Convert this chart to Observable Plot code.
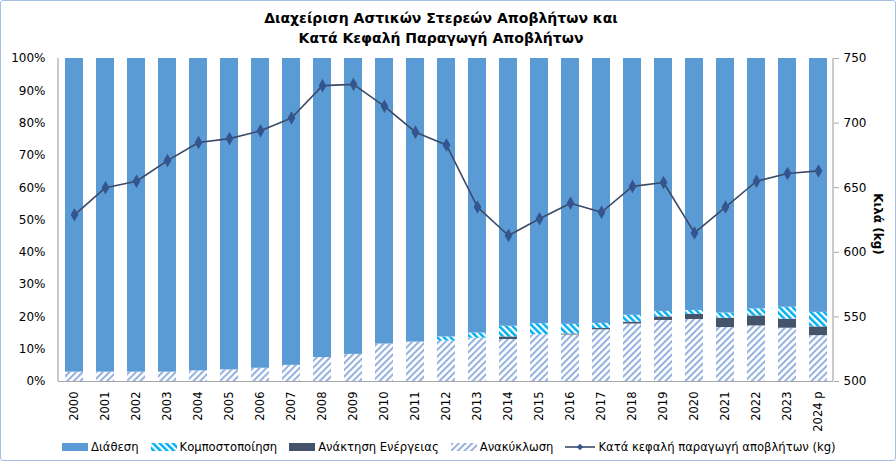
<!DOCTYPE html>
<html><head><meta charset="utf-8">
<script src="https://cdn.jsdelivr.net/npm/d3@7"></script>
<script src="https://cdn.jsdelivr.net/npm/@observablehq/plot@0.6"></script>
<style>
html,body{margin:0;padding:0;background:#fff;}
body{font-family:"DejaVu Sans",Verdana,sans-serif;color:#000;}
#wrap{position:relative;width:896px;height:461px;overflow:hidden;}
#border{position:absolute;left:0;top:0;right:0;bottom:0;border:1.5px solid #a4c0e8;border-radius:3px;pointer-events:none;box-sizing:border-box;}
#title{height:48px;box-sizing:border-box;padding-top:8px;text-align:center;font-weight:bold;font-size:14px;line-height:20px;padding-right:14px;}
#chart{height:390px;}
#legend{height:23px;display:flex;align-items:center;font-size:11.6px;padding-left:62px;box-sizing:border-box;padding-bottom:6px;}
.item{display:flex;align-items:center;margin-right:12px;}
.item svg{margin-right:3px;}
</style></head>
<body>
<svg width="0" height="0" style="position:absolute">
  <defs>
    <pattern id="recPat" patternUnits="userSpaceOnUse" width="4.7" height="4.7" patternTransform="rotate(45)">
      <rect width="4.7" height="4.7" fill="#ffffff"/>
      <rect width="2" height="4.7" fill="#93b0de"/>
    </pattern>
    <pattern id="compPat" patternUnits="userSpaceOnUse" width="4.7" height="4.7" patternTransform="rotate(-45)">
      <rect width="4.7" height="4.7" fill="#ffffff"/>
      <rect width="2.5" height="4.7" fill="#00b0f0"/>
    </pattern>
  </defs>
</svg>
<div id="wrap">
  <div id="title">Διαχείριση Αστικών Στερεών Αποβλήτων και<br>Κατά Κεφαλή Παραγωγή Αποβλήτων</div>
  <div id="chart"></div>
  <div id="legend"></div>
  <div id="border"></div>
</div>
<script>
const years = ["2000","2001","2002","2003","2004","2005","2006","2007","2008","2009","2010","2011","2012","2013","2014","2015","2016","2017","2018","2019","2020","2021","2022","2023","2024 p"];
const recycling = [2.9,2.9,2.9,2.9,3.3,3.6,4.1,5.0,7.4,8.4,11.6,12.2,12.5,13.4,13.0,14.5,14.4,16.0,17.8,18.9,19.2,16.7,17.2,16.5,14.2];
const energy = [0,0,0,0,0,0,0,0,0,0,0,0,0,0,0.8,0,0.3,0.4,0.6,1.1,1.6,2.9,3.1,2.8,2.7];
const composting = [0,0,0,0,0,0,0,0,0,0,0,0,1.3,1.6,3.3,3.4,3.0,1.6,2.1,1.7,1.2,1.6,2.2,3.7,4.5];
const disposal = [97.1,97.1,97.1,97.1,96.7,96.4,95.9,95.0,92.6,91.6,88.4,87.8,86.2,85.0,82.9,82.1,82.3,82.0,79.5,78.3,78.0,78.8,77.5,77.0,78.6];
const perCapita = [629,650,655,671,685,688,694,704,729,730,713,693,683,635,613,626,638,631,651,654,615,635,655,661,663];
const pctTicks = [0,10,20,30,40,50,60,70,80,90,100];
const kgTicks = [500,550,600,650,700,750];
const seriesNames = ["Ανακύκλωση","Ανάκτηση Ενέργειας","Κομποστοποίηση","Διάθεση"];
const seriesFills = ["url(#recPat)","#44546a","url(#compPat)","#5b9bd5"];
const lineName = "Κατά κεφαλή παραγωγή αποβλήτων (kg)";

const kgMin = kgTicks[0], kgMax = kgTicks[kgTicks.length - 1];
const kgToPct = v => (v - kgMin) / (kgMax - kgMin) * 100;

const seriesValues = [recycling, energy, composting, disposal];
const stacked = [];
years.forEach((y, i) => {
  seriesNames.forEach((s, j) => stacked.push({year: y, series: s, value: seriesValues[j][i]}));
});
const lineData = years.map((y, i) => ({year: y, kg: perCapita[i]}));
const kgTickPct = kgTicks.map(kgToPct);

const plot = Plot.plot({
  width: 896,
  height: 390,
  marginTop: 10,
  marginBottom: 57,
  marginLeft: 58,
  marginRight: 63,
  style: {fontFamily: "'DejaVu Sans', Verdana, sans-serif", fontSize: "12px", color: "#000", background: "#fff"},
  x: {domain: years, paddingInner: 0.42, paddingOuter: 0.21, label: null},
  y: {domain: [0, 100], label: null},
  color: {domain: seriesNames, range: seriesFills},
  marks: [
    Plot.barY(stacked, {x: "year", y: "value", z: "series", fill: "series", order: seriesNames}),
    Plot.axisY(pctTicks, {anchor: "left", tickFormat: d => d + "%", tickSize: 0, tickPadding: 13, label: null}),
    Plot.axisY(kgTickPct, {anchor: "right", tickFormat: d => String(kgTicks[kgTickPct.indexOf(d)]), tickSize: 5, tickPadding: 5, stroke: "#a6a6a6", label: null}),
    Plot.axisX({tickRotate: -90, tickSize: 0, tickPadding: 10, fontSize: 11.5, label: null}),
    Plot.ruleY([0], {stroke: "#a6a6a6", strokeWidth: 1.2}),
    Plot.line(lineData, {x: "year", y: d => kgToPct(d.kg), stroke: "#3b4a68", strokeWidth: 1.6}),
    Plot.dot(lineData, {x: "year", y: d => kgToPct(d.kg), symbol: "diamond", r: 3.2, fill: "#34558f", stroke: "#34558f"}),
    Plot.text(["Κιλά (kg)"], {frameAnchor: "right", textAnchor: "middle", dx: 44, dy: 4, rotate: 90, fontWeight: "bold", fontSize: 12})
  ]
});
document.getElementById("chart").appendChild(plot);

// axis lines at left and right of the frame
const svg = d3.select(plot);
const x0 = 58, x1 = 896 - 63, yTop = 10, yBot = 390 - 57;
svg.append("line").attr("x1", x0).attr("x2", x0).attr("y1", yTop).attr("y2", yBot).attr("stroke", "#a6a6a6").attr("stroke-width", 1.2);
svg.append("line").attr("x1", x1).attr("x2", x1).attr("y1", yTop).attr("y2", yBot).attr("stroke", "#a6a6a6").attr("stroke-width", 1.2);

// legend
const legend = d3.select("#legend");
const legendOrder = [
  {name: "Διάθεση", fill: "#5b9bd5"},
  {name: "Κομποστοποίηση", fill: "url(#compPat)"},
  {name: "Ανάκτηση Ενέργειας", fill: "#44546a"},
  {name: "Ανακύκλωση", fill: "url(#recPat)"}
];
legendOrder.forEach(it => {
  const d = legend.append("div").attr("class", "item");
  const s = d.append("svg").attr("width", 26).attr("height", 8);
  s.append("rect").attr("width", 26).attr("height", 8).attr("fill", it.fill);
  d.append("span").text(it.name);
});
const dl = legend.append("div").attr("class", "item");
const ls = dl.append("svg").attr("width", 30).attr("height", 10);
ls.append("line").attr("x1", 0).attr("x2", 30).attr("y1", 5).attr("y2", 5).attr("stroke", "#3b4a68").attr("stroke-width", 1.6);
ls.append("path").attr("d", "M15,1.8L18.2,5L15,8.2L11.8,5Z").attr("fill", "#34558f");
dl.append("span").text(lineName);
</script>
</body></html>
